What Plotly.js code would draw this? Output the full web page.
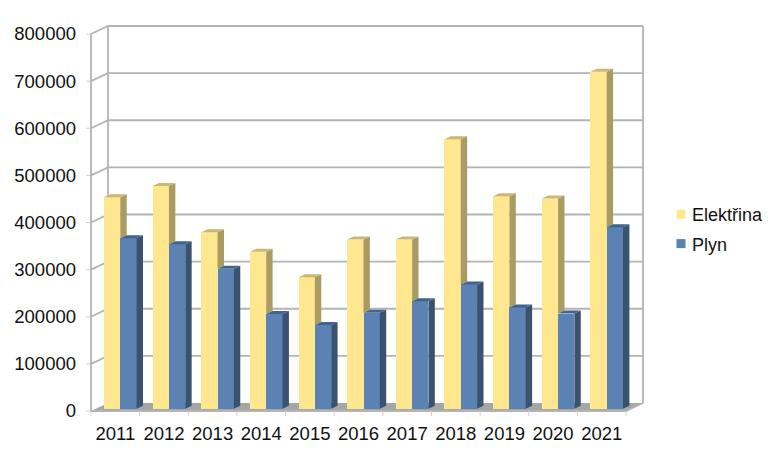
<!DOCTYPE html>
<html>
<head>
<meta charset="utf-8">
<script src="https://cdn.plot.ly/plotly-3.0.1.min.js"></script>
<style>
html, body { margin: 0; padding: 0; background: #fff; }
</style>
</head>
<body>
<div id="graph" style="width:780px;height:460px"></div>
<script>
var years = ["2011", "2012", "2013", "2014", "2015", "2016", "2017", "2018", "2019", "2020", "2021"];
var elektrina = [449000, 473000, 374500, 333000, 279000, 359000, 359000, 572000, 451000, 446000, 715000];
var plyn = [362000, 349000, 297000, 201000, 178000, 204000, 228000, 264000, 215000, 202000, 385000];
var yTicks = [0, 100000, 200000, 300000, 400000, 500000, 600000, 700000, 800000];

// pixel scale of the fake 3d box
var pxPerCat = 48.64;
var pxPerVal = 47.125 / 100000;
var pad = 5;
var plotLeft = 91 - pad, plotRight = 643 + 3, plotTop = 26 - 3, plotBottom = 411 + pad;
var depthX = 17 / pxPerCat, depthY = 8 / pxPerVal;
var barW = 16.3 / pxPerCat, barShift = 13 / pxPerCat, lift = 2.2 / pxPerVal;
var sideX = 6.4 / pxPerCat, sideY = 3 / pxPerVal;
var nCat = years.length;
var xMax = nCat + depthX;
var gridColor = "#b4b4b4";

function line(points, width, color) {
    var path = "";
    for (var i = 0; i < points.length; i++) {
        path += (i === 0 ? "M" : "L") + points[i][0] + "," + points[i][1];
    }
    return { type: "path", path: path, layer: "below", line: { color: color || gridColor, width: width || 1.8 } };
}

var shapes = [];
var xMin = -pad / pxPerCat, yMin = -pad / pxPerVal;

// floor
shapes.push({
    type: "path", layer: "below", line: { width: 0 }, fillcolor: "#a6a6a6",
    path: "M0,0L" + depthX + "," + depthY + "L" + xMax + "," + depthY + "L" + nCat + "," + 0 + "Z"
});
// walls and gridlines
yTicks.forEach(function (v) {
    if (v > 0) {
        shapes.push(line([[0, v], [depthX, v + depthY], [xMax, v + depthY]]));
    }
    shapes.push(line([[xMin, v], [0, v]], 1, "#d0d0d0"));
});
shapes.push(line([[0, 0], [0, 800000]]));
shapes.push(line([[depthX, depthY], [depthX, 800000 + depthY]]));
shapes.push(line([[xMax, depthY], [xMax, 800000 + depthY]]));
shapes.push(line([[0, 0], [nCat, 0], [xMax, depthY]]));
for (var t = 0; t <= nCat; t++) {
    shapes.push(line([[t, yMin], [t, 0]], 1, "#d0d0d0"));
}

// side + top faces of one series, computed from its values
function faces(values, leftEdge, clipBelow) {
    var side = { x: [], y: [] }, top = { x: [], y: [] };
    for (var i = 0; i < values.length; i++) {
        var x0 = i + leftEdge, x1 = x0 + barW;
        var h = values[i] + lift;
        var low = clipBelow ? clipBelow[i] + lift : lift;
        side.x.push(x1, x1 + sideX, x1 + sideX, x1, x1, null);
        side.y.push(low, low + sideY, h + sideY, h, low, null);
        top.x.push(x0, x1, x1 + sideX, x0 + sideX, x0, null);
        top.y.push(h, h, h + sideY, h + sideY, h, null);
    }
    return { side: side, top: top };
}

function poly(f, color) {
    return {
        x: f.x, y: f.y, type: "scatter", mode: "lines", fill: "toself", fillcolor: color,
        line: { width: 0 }, hoverinfo: "skip", showlegend: false, connectgaps: false
    };
}

function barTrace(values, name, color, leftEdge) {
    var xs = [], bases = [];
    for (var i = 0; i < values.length; i++) {
        xs.push(i);
        bases.push(lift);
    }
    return {
        x: xs, y: values, base: bases, type: "bar", name: name, width: barW, offset: leftEdge,
        marker: { color: color, line: { width: 0 } }, showlegend: false
    };
}

function legendTrace(name, color) {
    return {
        x: [null], y: [null], type: "scatter", mode: "markers", name: name, legendgroup: name,
        marker: { symbol: "square", size: 9, color: color }, hoverinfo: "skip"
    };
}

var yellowFaces = faces(elektrina, barShift, plyn);
var blueFaces = faces(plyn, barShift + barW);

var data = [
    barTrace(elektrina, "Elektřina", "#ffe78f", barShift),
    barTrace(plyn, "Plyn", "#5b82b3", barShift + barW),
    poly(yellowFaces.side, "#a99b62"),
    poly(yellowFaces.top, "#c9b873"),
    poly(blueFaces.side, "#39536f"),
    poly(blueFaces.top, "#3f6490"),
    legendTrace("Elektřina", "#ffe78f"),
    legendTrace("Plyn", "#5b82b3")
];

var tickPos = years.map(function (y, i) { return i + 0.5; });
var plotW = plotRight - plotLeft, plotH = plotBottom - plotTop;

var layout = {
    width: 780,
    height: 460,
    margin: { l: plotLeft, r: 780 - plotRight, t: plotTop, b: 460 - plotBottom, autoexpand: false },
    paper_bgcolor: "#fff",
    plot_bgcolor: "#fff",
    font: { family: "Liberation Sans, Arial, sans-serif", size: 18, color: "#111" },
    barmode: "overlay",
    bargap: 0,
    xaxis: {
        range: [xMin, (plotRight - 91) / pxPerCat],
        tickvals: tickPos, ticktext: years, ticks: "", showgrid: false, zeroline: false, showline: false,
        ticklabelstandoff: 4, fixedrange: true, tickfont: { size: 18.5 }
    },
    yaxis: {
        range: [yMin, (411 - plotTop) / pxPerVal],
        tickvals: yTicks, ticktext: yTicks.map(String), ticks: "", showgrid: false, zeroline: false, showline: false,
        ticklabelstandoff: 9, fixedrange: true, tickfont: { size: 18.5 }
    },
    shapes: shapes,
    legend: {
        x: (652 - plotLeft) / plotW, xanchor: "left", y: (plotBottom - 196) / plotH, yanchor: "top",
        bgcolor: "rgba(0,0,0,0)", tracegroupgap: 3, font: { size: 18 }
    },
    showlegend: true
};

Plotly.newPlot("graph", data, layout, { displayModeBar: false, responsive: false }).then(function (gd) {
    // legend swatches sit closer to the text in the original
    gd.querySelectorAll(".legend .legendpoints").forEach(function (el) {
        el.setAttribute("transform", "translate(9,0)");
    });
});
</script>
</body>
</html>
